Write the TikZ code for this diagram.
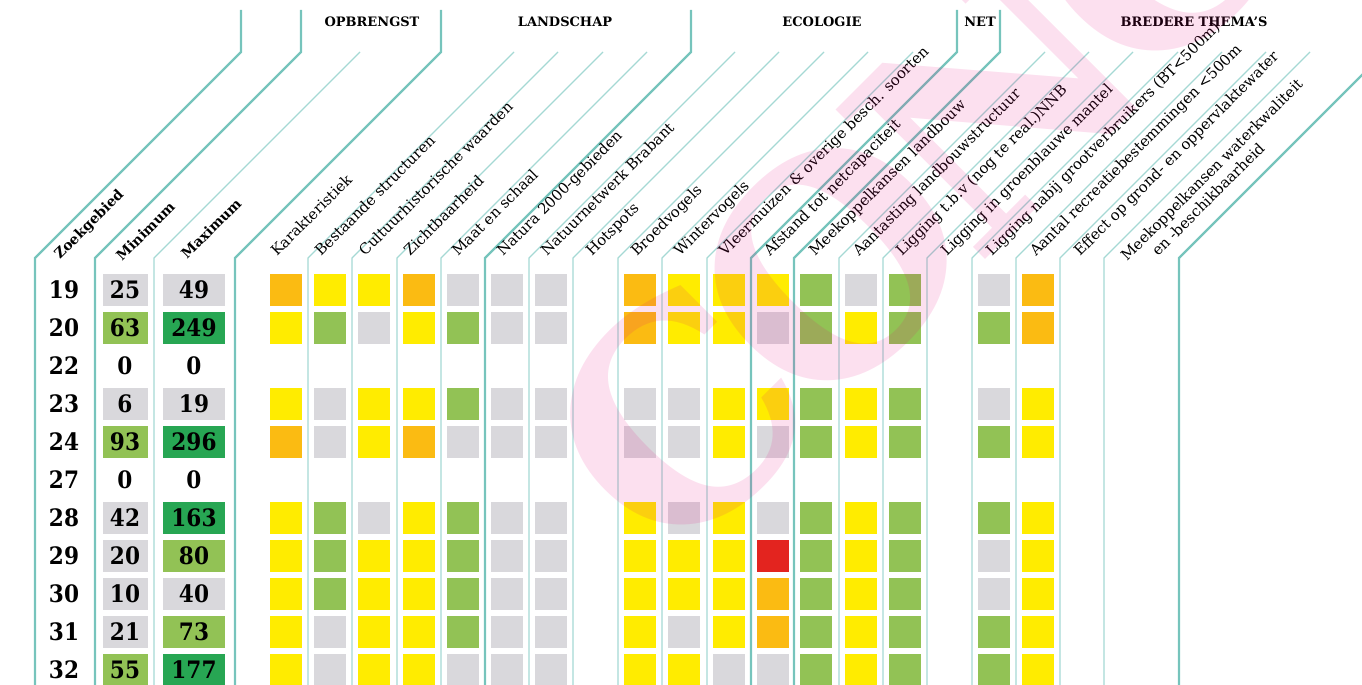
\documentclass[tikz,border=0pt]{standalone}
\usepackage{fontspec}
\setmainfont{DejaVu Serif}
\newfontfamily\numfont{DejaVu Serif Condensed}
\newfontfamily\stampfont{DejaVu Serif}[LetterSpace=-9]
\usetikzlibrary{positioning}

\definecolor{rulecol}{RGB}{118,196,188}
\definecolor{rulelight}{RGB}{165,217,212}
\definecolor{cgrey}{RGB}{217,216,220}
\definecolor{clight}{RGB}{146,194,85}
\definecolor{cdark}{RGB}{39,166,83}
\definecolor{cyel}{RGB}{255,236,0}
\definecolor{corange}{RGB}{251,187,18}
\definecolor{cred}{RGB}{227,36,31}
\definecolor{stampcol}{RGB}{230,0,126}

\tikzset{
  thickrule/.style={draw=rulecol, line width=2.2pt},
  thinrule/.style={draw=rulelight, line width=1.1pt},
  cell/.style={minimum width=32pt, minimum height=32pt, inner sep=0pt},
  fG/.style={fill=cgrey}, fL/.style={fill=clight}, fD/.style={fill=cdark},
  fY/.style={fill=cyel}, fO/.style={fill=corange}, fR/.style={fill=cred},
  fN/.style={},
  numtext/.style={inner sep=0pt, font=\numfont\bfseries\fontsize{24}{24}\selectfont},
  minbox/.style={numtext, minimum width=45pt, minimum height=32pt},
  maxbox/.style={numtext, minimum width=62pt, minimum height=32pt},
  grp/.style={inner sep=0pt, font=\bfseries\fontsize{13}{13}\selectfont},
  lab/.style={rotate=45, anchor=base west, inner sep=0pt, font=\fontsize{14.8}{17.5}\selectfont},
  stamp/.style={rotate=45, anchor=base west, inner sep=0pt, text=stampcol, text opacity=0.12,
    font=\stampfont\bfseries\fontsize{290}{290}\selectfont}
}

\begin{document}
\begin{tikzpicture}[x=1pt, y=-1pt]
\useasboundingbox (0,0) rectangle (1362,685);

% column rules
\foreach \x in {154,308,352,397,441,529,573,618,662,707,839,883,927,972,1016,1060,1104}
    \draw[thinrule] (\x,685) -- (\x,258) -- ++(206,-206);
\foreach \x in {35,95,235,485,751,794,1179}
    \draw[thickrule] (\x,685) -- (\x,258) -- ++(206,-206) -- ++(0,-42);

% group headers
\node[grp] (opbrengst) at (372,22) {OPBRENGST};
\node[grp] (landschap) at (565,22) {LANDSCHAP};
\node[grp] (ecologie) at (822,22) {ECOLOGIE};
\node[grp] (net) at (980,22) {NET};
\node[grp] (bredere) at (1194,22) {BREDERE THEMA’S};

% column headers
\begin{scope}[every node/.style={lab, font=\bfseries\fontsize{14}{14}\selectfont}]
    \node (zoekgebied) at (60,260) {Zoekgebied};
    \node (minimum) at (122,262) {Minimum};
    \node (maximum) at (187,260) {Maximum};
\end{scope}

\foreach \x/\txt [count=\i] in {277/Karakteristiek, 321/Bestaande structuren,
    365/Cultuurhistorische waarden, 410/Zichtbaarheid, 458/Maat en schaal,
    503/Natura 2000-gebieden, 547/Natuurnetwerk Brabant, 592/Hotspots,
    637/Broedvogels, 680/Wintervogels, 725/{Vleermuizen \& overige besch. soorten},
    770/Afstand tot netcapaciteit, 815/Meekoppelkansen landbouw,
    859/Aantasting landbouwstructuur, 902/{Ligging t.b.v (nog te real.)NNB},
    947/Ligging in groenblauwe  mantel, 992/{Ligging nabij grootverbruikers (BT<500m)},
    1036/Aantal recreatiebestemmingen <500m, 1080/Effect op grond- en oppervlaktewater}
    \node[lab] (theme-\i) at (\x,257) {\txt};
\node[lab] (theme-20) at (1127,262) {Meekoppelkansen waterkwaliteit};
\node[lab] (theme-20b) at (1158,257) {en -beschikbaarheid};

% zoekgebied, minimum, maximum
\foreach \n/\y/\mn/\fa/\mx/\fb in {19/290/25/fG/49/fG, 20/328/63/fL/249/fD, 22/366/0/fN/0/fN,
    23/404/6/fG/19/fG, 24/442/93/fL/296/fD, 27/480/0/fN/0/fN, 28/518/42/fG/163/fD,
    29/556/20/fG/80/fL, 30/594/10/fG/40/fG, 31/632/21/fG/73/fL, 32/670/55/fL/177/fD} {
    \node[numtext] (zk-\n) at (64,\y) {\n};
    \node[minbox, \fa] (min-\n) at (125,\y) {\mn};
    \node[maxbox, \fb] (max-\n) at (194,\y) {\mx};
}

% score cells
\foreach \n/\y/\codes in {
    19/290/{fO,fY,fY,fO,fG,fG,fG,fO,fY,fY,fY,fL,fG,fL,fG,fO},
    20/328/{fY,fL,fG,fY,fL,fG,fG,fO,fY,fY,fG,fL,fY,fL,fL,fO},
    23/404/{fY,fG,fY,fY,fL,fG,fG,fG,fG,fY,fY,fL,fY,fL,fG,fY},
    24/442/{fO,fG,fY,fO,fG,fG,fG,fG,fG,fY,fG,fL,fY,fL,fL,fY},
    28/518/{fY,fL,fG,fY,fL,fG,fG,fY,fG,fY,fG,fL,fY,fL,fL,fY},
    29/556/{fY,fL,fY,fY,fL,fG,fG,fY,fY,fY,fR,fL,fY,fL,fG,fY},
    30/594/{fY,fL,fY,fY,fL,fG,fG,fY,fY,fY,fO,fL,fY,fL,fG,fY},
    31/632/{fY,fG,fY,fY,fL,fG,fG,fY,fG,fY,fO,fL,fY,fL,fL,fY},
    32/670/{fY,fG,fY,fY,fG,fG,fG,fY,fY,fG,fG,fL,fY,fL,fL,fY}} {
    \foreach \f [count=\i] in \codes {
        \pgfmathsetmacro\cx{{286,330,374,419,463,507,551,640,684,729,773,816,861,905,994,1038}[\i-1]}
        \node[cell, \f] (cell-\n-\i) at (\cx,\y) {};
    }
}

% watermark
\node[stamp] (concept) at (671,574) {CONCEPT};

\end{tikzpicture}
\end{document}
